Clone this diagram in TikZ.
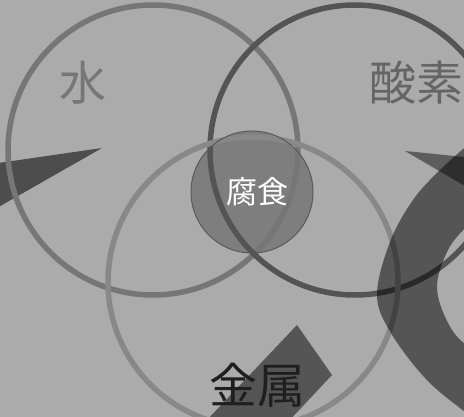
\documentclass[tikz,border=0pt]{standalone}
\usepackage{fontspec}
\newfontfamily\cjk{Noto Sans CJK JP}
\definecolor{bg}{HTML}{ABABAB}
\definecolor{ringW}{HTML}{767676}
\definecolor{ringO}{HTML}{545454}
\definecolor{ringM}{HTML}{888888}
\definecolor{coreFill}{HTML}{7E7E7E}
\definecolor{coreEdge}{HTML}{595959}
\tikzset{
  ring/.style={line width=5.5pt},
  darkshape/.style={fill=black, fill opacity=0.5, draw=none},
  label/.style={font=\cjk, inner sep=0pt, anchor=center},
}
\begin{document}
\begin{tikzpicture}[x=1pt,y=-1pt]
\path[use as bounding box] (0,0) rectangle (464,417);
\begin{scope}
\clip (0,0) rectangle (464,417);
\fill[bg] (0,0) rectangle (464,417);
% left wedge
\fill[black, fill opacity=0.55] (102,148) -- (-5,163.5) -- (-5,209) -- cycle;
% corrosion disc
\fill[coreFill] (252,192) circle (61);
% rings
\draw[ring, ringW] (153,150) circle (145);
\draw[ring, ringO] (355,150) circle (145);
\draw[ring, ringM] (253,282) circle (145);
\draw[coreEdge, line width=1pt] (252,192) circle (61);
% bottom tilted bar
\fill[darkshape] (297,325) -- (332,375) -- (271,440) -- (188,440) -- cycle;
% right crescent band
\fill[darkshape] (495,120) -- plot[smooth, tension=0.6] coordinates {(470,143) (440,170) (413,200) (390,242) (377,295) (391,333) (425,378) (460,408) (485,425)} -- (495,430) -- (495,360)
  -- plot[smooth, tension=0.6] coordinates {(475,352) (452,330) (437,289) (448,250) (468,225) (480,215)} -- cycle;
% upper right wedge
\fill[black, fill opacity=0.45] (405,151) -- (470,157.6) -- (470,189) -- cycle;
\end{scope}
% labels
\node[label, text=ringW, font=\cjk\fontsize{47}{47}\selectfont] (water) at (83,83) {水};
\node[label, text=ringO!90!white, font=\cjk\fontsize{47}{47}\selectfont] (oxygen) at (416,83) {酸素};
\node[label, text=black!88, font=\cjk\fontsize{48}{48}\selectfont] (metal) at (257,385) {金属};
\node[label, text=white, font=\cjk\fontsize{31}{31}\selectfont] (corrosion) at (257,192) {腐食};
\end{tikzpicture}
\end{document}
